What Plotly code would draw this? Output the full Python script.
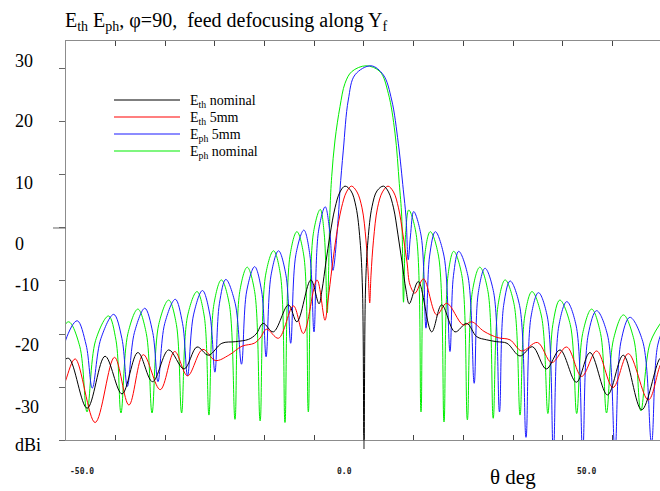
import plotly.graph_objects as go

# ---------------- data (theta in deg, gain in dBi) ----------------
green_theta = [
    -63.5, -61.9, -59.45, -57.2, -55.73,
    -54.0, -51.4, -49.9, -48.9,
    -47.5, -45.5, -43.8, -42.65,
    -41.3, -39.3, -37.75, -36.7,
    -35.5, -33.6, -32.15, -31.2,
    -30.2, -28.7, -27.1, -25.96,
    -25.0, -23.5, -22.0, -20.9,
    -19.8, -18.2, -16.8, -15.9,
    -14.9, -13.5, -12.1, -11.2,
    -10.2, -8.8, -8.0, -7.4,
    -6.84, -6.5, -5.83, -4.83, -3.82, -2.47, 0.4, 3.22, 4.89, 6.24, 7.10, 7.59, 7.95,
    8.37, 9.0, 10.5, 11.47,
    12.2, 13.34, 15.0, 16.1,
    16.9, 18.05, 19.7, 20.8,
    21.8, 23.3, 24.95, 26.0,
    27.0, 28.4, 30.2, 31.4,
    32.35, 33.8, 35.7, 37.0,
    38.0, 39.4, 41.5, 42.8,
    44.0, 45.8, 47.6, 48.8,
    50.2, 52.2, 54.3, 55.7,
    57.6, 60.4]
green_db = [
    -35.0, -22.3, -17.7, -22.3, -34.7,
    -21.2, -16.6, -21.2, -34.9,
    -19.9, -15.3, -19.9, -34.9,
    -18.2, -13.6, -18.2, -34.9,
    -16.6, -12.0, -16.6, -35.3,
    -14.4, -9.8, -14.4, -36.1,
    -12.0, -7.4, -12.0, -36.4,
    -8.9, -4.3, -8.9, -36.7,
    -5.3, -0.7, -5.3, -34.7,
    -1.1, 3.5, -1.1, -16.0,
    3.4, 9.7, 16.6, 22.9, 27.3, 29.5, 30.6, 29.5, 25.4, 17.9, 8.4, 2.1, -14.0,
    -1.2, 3.4, -1.2, -34.7,
    -5.3, -0.7, -5.3, -36.6,
    -9.0, -4.4, -9.0, -36.2,
    -12.0, -7.4, -12.0, -35.9,
    -14.4, -9.8, -14.4, -35.3,
    -16.6, -12.0, -16.6, -35.0,
    -18.2, -13.6, -18.2, -35.0,
    -19.9, -15.3, -19.9, -34.9,
    -21.0, -16.4, -21.0, -34.5,
    -21.6, -17.0]

blue_theta = [
    -61.5, -60.0, -57.7, -55.9, -54.67,
    -52.95, -50.36, -48.7, -47.62,
    -46.2, -44.1, -42.5, -41.45,
    -40.1, -37.97, -36.5, -35.5,
    -34.3, -32.5, -31.0, -30.0,
    -29.1, -27.8, -25.9, -24.65,
    -23.6, -22.0, -20.6, -19.7,
    -18.7, -17.2, -15.7, -14.75,
    -13.7, -12.1, -10.9, -10.06,
    -9.15, -7.8, -6.9, -6.25,
    -5.17, -4.83, -4.16, -3.16, -1.81, 1.41, 3.88, 5.57, 6.90, 7.91, 8.45, 8.9,
    9.35, 10.0, 11.5, 12.47,
    13.2, 14.35, 16.1, 17.3,
    18.0, 19.05, 20.9, 22.17,
    23.0, 24.35, 26.1, 27.26,
    28.1, 29.4, 31.3, 32.6,
    33.6, 35.1, 36.9, 38.1,
    39.2, 40.8, 42.7, 44.0,
    45.1, 46.8, 49.0, 50.5,
    51.7, 53.5, 56.1, 57.85,
    59.1, 60.9]
blue_db = [
    -32.0, -21.1, -17.5, -22.1, -30.2,
    -20.9, -16.3, -20.9, -29.9,
    -19.75, -15.15, -19.75, -29.0,
    -18.05, -13.45, -18.05, -27.9,
    -16.4, -11.8, -16.4, -27.2,
    -14.3, -9.7, -14.3, -25.7,
    -11.9, -7.3, -11.9, -24.3,
    -8.9, -4.3, -8.9, -21.75,
    -5.0, -0.4, -5.0, -19.6,
    -0.6, 4.0, -0.6, -8.0,
    2.1, 7.2, 14.7, 24.15, 28.9, 30.6, 28.9, 24.15, 16.0, 7.2, 2.1, -6.0,
    -1.5, 3.1, -1.5, -18.9,
    -5.3, -0.7, -5.3, -23.3,
    -9.0, -4.4, -9.0, -29.3,
    -12.2, -7.6, -12.2, -34.7,
    -14.6, -10.0, -14.6, -39.5,
    -16.8, -12.2, -16.8, -42.0,
    -18.5, -13.9, -18.5, -42.0,
    -20.2, -15.6, -20.2, -42.0,
    -21.45, -16.85, -21.45, -40.5,
    -22.1, -17.5]

black_theta = [
    -60.8, -59.4, -55.7, -52.1, -48.7, -45.5, -42.55, -39.3, -36.2, -33.6,
    -31.3, -28.6, -25.9, -23.2, -21.7, -20.3, -18.25, -15.2, -13.5, -10.7,
    -9.05, -8.45, -7.65, -6.84, -5.83, -4.83, -3.82, -2.62, -1.61, -0.80,
    -0.30, 0.0, 0.30, 0.80, 1.61, 2.62, 3.92, 4.93, 5.94, 6.84,
    7.65, 8.45, 9.11, 10.93, 13.62, 15.63, 18.31, 20.66, 22.68, 24.69,
    26.70, 28.77, 31.39, 33.90, 36.68, 39.44, 42.72, 45.47, 48.99, 52.17,
    55.87, 59.55, 60.4]
black_db = [
    -25.3, -24.6, -34.0, -24.2, -31.3, -23.5, -29.0, -23.0, -26.6, -22.45,
    -24.0, -21.75, -21.45, -21.0, -20.0, -18.0, -19.6, -14.5, -17.7, -9.8,
    -14.3, -11.7, -6.4, -1.3, 3.8, 6.8, 7.9, 7.0, 4.0, -2.3,
    -11.7, -45.0, -11.7, -2.3, 4.0, 7.0, 7.9, 6.8, 3.8, -1.3,
    -6.4, -11.7, -14.3, -10.1, -19.6, -14.5, -19.6, -18.0, -20.5, -21.1,
    -21.45, -21.75, -24.15, -22.4, -26.6, -23.0, -29.1, -23.5, -31.5, -24.0,
    -34.3, -24.6, -24.2]

red_theta = [
    -61.2, -60.0, -58.1, -54.1, -50.2, -47.3, -44.4, -41.0, -38.1, -35.5,
    -32.45, -29.9, -27.2, -24.55, -22.1, -20.9, -19.6, -17.2, -14.2, -12.2,
    -9.46, -7.85, -7.24, -6.44, -5.53, -4.53, -3.52, -2.52, -1.41, -0.40,
    0.40, 0.86, 1.15, 1.41, 1.91, 2.72, 3.72, 4.83, 5.94, 6.94,
    7.85, 8.65, 9.26, 10.26, 11.97, 14.63, 16.64, 19.98, 21.67, 24.14,
    26.96, 29.38, 31.73, 34.91, 37.77, 40.78, 43.80, 46.82, 50.10, 53.18,
    57.20, 59.55, 60.76]
red_db = [
    -32.5, -28.7, -24.7, -36.7, -24.4, -33.4, -23.9, -30.5, -23.3, -27.9,
    -22.9, -25.0, -24.0, -22.3, -21.75, -20.75, -19.1, -20.8, -14.7, -19.9,
    -9.8, -17.4, -13.6, -7.55, -1.3, 3.8, 6.8, 7.9, 6.8, 3.8,
    -2.3, -8.9, -14.15, -8.9, -2.3, 3.8, 6.8, 7.9, 6.8, 3.8,
    -1.3, -6.4, -10.75, -12.3, -9.6, -16.4, -14.2, -18.3, -17.7, -19.5,
    -20.7, -21.1, -23.2, -21.6, -25.4, -22.45, -28.0, -23.2, -30.1, -23.7,
    -32.45, -26.0, -23.6]

series_names = ["E<sub>th</sub> nominal", "E<sub>th</sub> 5mm",
                "E<sub>ph</sub> 5mm", "E<sub>ph</sub> nominal"]
series_colors = ["#000000", "#ff0000", "#1a1aff", "#00ee00"]
x_tick_values = [-60, -50, -40, -30, -20, -10, 0, 10, 20, 30, 40, 50]
y_tick_values = [-40, -30, -20, -10, 0, 10, 20, 30]
x_tick_labels = ["-50.0", "0.0", "50.0"]
y_tick_labels = ["30", "20", "10", "0", "-10", "-20", "-30", "dBi"]
title_text = ("E<sub>th</sub> E<sub>ph</sub>, \u03c6=90,\u00a0 feed defocusing along Y<sub>f</sub>")
x_title = "\u03b8 deg"

# ---------------- layout geometry ----------------
W, H = 660, 491
ML, MR, MT, MB = 66, 0, 41, 51
PW, PH = W - ML - MR, H - MT - MB


def px(x):
    return (x - ML) / PW


def py(y):
    return (H - MB - y) / PH


fig = go.Figure()
curves = [
    (green_theta, green_db, series_colors[3]),
    (blue_theta, blue_db, series_colors[2]),
    (red_theta, red_db, series_colors[1]),
    (black_theta, black_db, series_colors[0]),
]
for xs, ys, col in curves:
    fig.add_trace(go.Scatter(x=xs, y=ys, mode="lines",
                             line=dict(color=col, width=1, shape="spline", smoothing=1.0),
                             showlegend=False, hoverinfo="skip"))

AX = "#8c8c8c"
fig.update_layout(
    width=W, height=H, autosize=False,
    margin=dict(l=ML, r=MR, t=MT, b=MB, pad=0),
    paper_bgcolor="white", plot_bgcolor="white",
    xaxis=dict(range=[-59.96, 59.56], showgrid=False, zeroline=False,
               showline=True, linecolor=AX, linewidth=1, mirror="ticks",
               ticks="inside", ticklen=5, tickcolor="#444", tickwidth=1,
               tickvals=x_tick_values, showticklabels=False, fixedrange=True),
    yaxis=dict(range=[-40.0, 35.28], showgrid=False, zeroline=False,
               showline=True, linecolor=AX, linewidth=1, mirror=False,
               ticks="outside", ticklen=6, tickcolor="#666", tickwidth=1,
               tickvals=y_tick_values, showticklabels=False, fixedrange=True),
)

shapes = []
# long tick marks at zero
shapes.append(dict(type="line", xref="paper", yref="y", x0=px(53), x1=px(66), y0=0, y1=0,
                   line=dict(color="#666", width=1)))
shapes.append(dict(type="line", xref="x", yref="paper", x0=0, x1=0, y0=py(440), y1=py(449),
                   line=dict(color="#222", width=1)))
# legend lines
leg_y = [100, 117, 134, 151]
for yy, col in zip(leg_y, series_colors):
    shapes.append(dict(type="line", xref="paper", yref="paper", x0=px(114), x1=px(180),
                       y0=py(yy), y1=py(yy), line=dict(color=col, width=1.2)))
fig.update_layout(shapes=shapes)

ann = []
SERIF = "Liberation Serif, Times New Roman, serif"
ann.append(dict(text=title_text, xref="paper", yref="paper", x=px(63), y=py(21),
                xanchor="left", yanchor="middle", showarrow=False,
                font=dict(family=SERIF, size=20, color="black")))
for yy, name in zip(leg_y, series_names):
    ann.append(dict(text=name, xref="paper", yref="paper", x=px(188), y=py(yy + 1),
                    xanchor="left", yanchor="middle", showarrow=False,
                    font=dict(family=SERIF, size=14, color="black")))
y_lab_pos = [60.7, 121, 183, 244, 285, 345, 406.7, 445]
for yy, t in zip(y_lab_pos, y_tick_labels):
    ann.append(dict(text=t, xref="paper", yref="paper", x=px(13), y=py(yy),
                    xanchor="left", yanchor="middle", showarrow=False,
                    font=dict(family=SERIF, size=18, color="black")))
x_lab_pos = [82, 344, 586]
for xx, t in zip(x_lab_pos, x_tick_labels):
    ann.append(dict(text="<b>" + t + "</b>", xref="paper", yref="paper", x=px(xx), y=py(471),
                    xanchor="center", yanchor="middle", showarrow=False,
                    font=dict(family="DejaVu Sans Mono", size=8, color="#222")))
ann.append(dict(text=x_title, xref="paper", yref="paper", x=px(513), y=py(477),
                xanchor="center", yanchor="middle", showarrow=False,
                font=dict(family=SERIF, size=21, color="black")))
fig.update_layout(annotations=ann)

fig.write_html("out.html")
